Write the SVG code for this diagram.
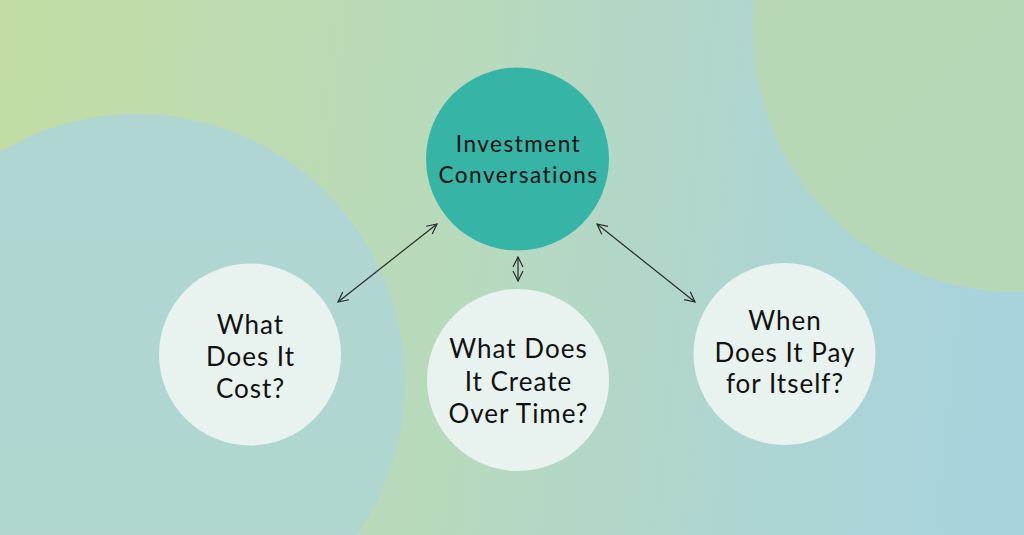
<svg xmlns="http://www.w3.org/2000/svg" width="1024" height="535" viewBox="0 0 1024 535">
  <defs>
    <linearGradient id="bg" x1="0" y1="0" x2="1024" y2="120" gradientUnits="userSpaceOnUse">
      <stop offset="0" stop-color="#c2dca3"/>
      <stop offset="0.45" stop-color="#b8dabb"/>
      <stop offset="0.75" stop-color="#aed5d0"/>
      <stop offset="1" stop-color="#a8d3dd"/>
    </linearGradient>
    <linearGradient id="lc" x1="0" y1="0" x2="0" y2="1">
      <stop offset="0" stop-color="#b0d6d4"/>
      <stop offset="1" stop-color="#afd6cd"/>
    </linearGradient>
    <linearGradient id="rc" x1="0" y1="0" x2="1" y2="1">
      <stop offset="0" stop-color="#b8d8b3"/>
      <stop offset="1" stop-color="#b6d8b8"/>
    </linearGradient>
    <marker id="ah" viewBox="0 0 12 12" refX="11" refY="6" markerWidth="12" markerHeight="12" markerUnits="userSpaceOnUse" orient="auto-start-reverse">
      <path d="M1,1 L11,6 L1,11" fill="none" stroke="#2b2b2b" stroke-width="1.2"/>
    </marker>
    <style>
      .conn { stroke: #2b2b2b; stroke-width: 1.2; fill: none; marker-start: url(#ah); marker-end: url(#ah); }
      .node { fill: #e8f3ef; }
      .main { fill: #36b4a5; }
      .lbl { font-family: Lato, "Open Sans", sans-serif; font-size: 26px; letter-spacing: 1px; fill: #111; text-anchor: middle; }
      .mlbl { font-family: Lato, "Open Sans", sans-serif; font-size: 22.5px; letter-spacing: 1.5px; fill: #111; text-anchor: middle; }
    </style>
  </defs>
  <rect width="1024" height="535" fill="url(#bg)"/>
  <circle cx="137" cy="382" r="268" fill="url(#lc)"/>
  <circle cx="1015" cy="30" r="262" fill="url(#rc)"/>

  <g id="connectors">
    <line class="conn" x1="338" y1="302" x2="437" y2="224"/>
    <line class="conn" x1="518" y1="257" x2="518" y2="281"/>
    <line class="conn" x1="597" y1="224" x2="695" y2="302"/>
  </g>

  <g id="node-investment">
    <circle class="main" cx="517.5" cy="159" r="91.5"/>
    <text class="mlbl" x="518.5" y="152">Investment</text>
    <text class="mlbl" x="518.5" y="183">Conversations</text>
  </g>
  <g id="node-cost">
    <circle class="node" cx="250" cy="354.5" r="91"/>
    <text class="lbl" x="250.5" y="334">What</text>
    <text class="lbl" x="250.5" y="366">Does It</text>
    <text class="lbl" x="250.5" y="398">Cost?</text>
  </g>
  <g id="node-create">
    <circle class="node" cx="518" cy="380" r="91"/>
    <text class="lbl" x="518.5" y="358">What Does</text>
    <text class="lbl" x="518.5" y="391">It Create</text>
    <text class="lbl" x="518.5" y="423">Over Time?</text>
  </g>
  <g id="node-pay">
    <circle class="node" cx="784.5" cy="354" r="91"/>
    <text class="lbl" x="785" y="330">When</text>
    <text class="lbl" x="785" y="362">Does It Pay</text>
    <text class="lbl" x="785" y="393">for Itself?</text>
  </g>
</svg>
